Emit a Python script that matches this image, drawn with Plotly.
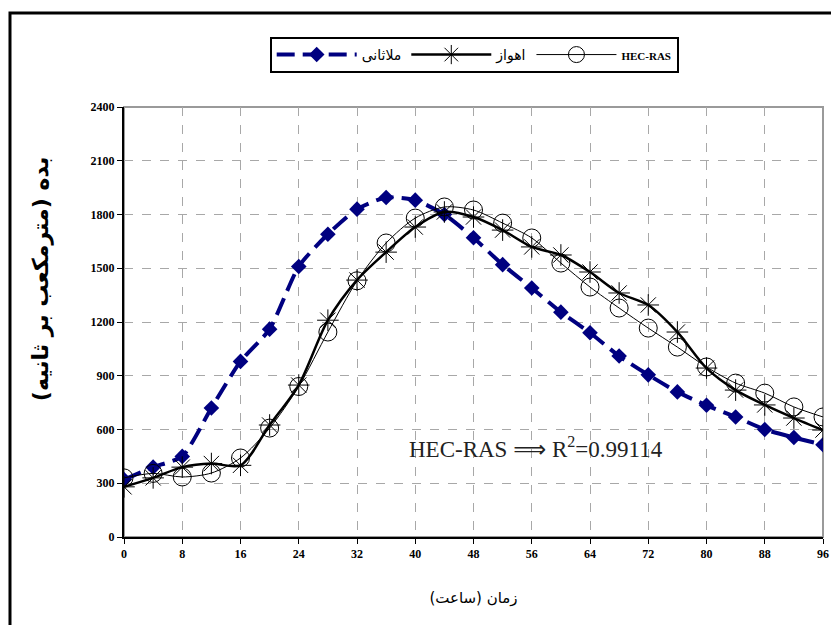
import plotly.graph_objects as go

# hours since start of the flood
hours = [0, 4, 8, 12, 16, 20, 24, 28, 32, 36, 40, 44, 48,
         52, 56, 60, 64, 68, 72, 76, 80, 84, 88, 92, 96]

# discharge (m3/s)
malathani = [320, 390, 450, 720, 980, 1160, 1510, 1690, 1830, 1895, 1880, 1800, 1670,
             1520, 1390, 1255, 1140, 1010, 905, 810, 735, 670, 600, 555, 515]
ahvaz = [280, 330, 390, 410, 400, 625, 848, 1210, 1434, 1590, 1730, 1814, 1786,
         1713, 1619, 1574, 1479, 1362, 1295, 1144, 943, 820, 737, 664, 597]
hecras = [330, 355, 335, 357, 441, 608, 840, 1144, 1430, 1641, 1780, 1842, 1825,
          1752, 1669, 1529, 1395, 1278, 1166, 1060, 949, 859, 803, 726, 670]

x_ticks = [0, 8, 16, 24, 32, 40, 48, 56, 64, 72, 80, 88, 96]
y_ticks = [0, 300, 600, 900, 1200, 1500, 1800, 2100, 2400]

serif = "Liberation Serif, DejaVu Serif, serif"
persian = "DejaVu Sans, Noto Sans, sans-serif"

fig = go.Figure()

fig.add_trace(go.Scatter(
    x=hours, y=malathani, name="ملاثانی", mode="lines+markers",
    line=dict(color="#000080", width=4, dash="18px,8px", shape="spline", smoothing=0.6),
    marker=dict(symbol="diamond", size=12, color="#000080"),
))
fig.add_trace(go.Scatter(
    x=hours, y=ahvaz, name="اهواز", mode="lines+markers",
    line=dict(color="black", width=2.5, shape="spline", smoothing=0.8),
    marker=dict(symbol="asterisk-open", size=18, color="black", line=dict(color="black", width=1)),
))
fig.add_trace(go.Scatter(
    x=hours, y=hecras,
    name="<span style='font-family:Liberation Serif;font-size:11px'><b>HEC-RAS</b></span>",
    mode="lines+markers",
    line=dict(color="black", width=1, shape="spline", smoothing=0.8),
    marker=dict(symbol="circle-open", size=18, color="black", line=dict(color="black", width=1)),
))

# gray plot-area border, black outer frame
fig.add_shape(type="rect", xref="paper", yref="paper", x0=0, y0=0, x1=1, y1=1,
              line=dict(color="#9a9a9a", width=2), layer="below")
fig.add_shape(type="path", xref="paper", yref="paper",
              path="M -0.1631,-0.3 L -0.1631,1.2186 L 1.1,1.2186",
              line=dict(color="black", width=3))

fig.add_annotation(
    x=56.6, y=502, xref="x", yref="y",
    text="HEC-RAS <span style='font-family:DejaVu Sans'>⟹</span> R<sup>2</sup>=0.99114",
    showarrow=False,
    font=dict(family=serif, size=23, color="#222222"),
)

# y title as a rotated annotation so it can sit a bit above centre like the original
fig.add_annotation(
    x=-0.14, y=0.60, xref="paper", yref="paper",
    text="<b>بده (مترمکعب بر ثانیه)</b>", textangle=-90, showarrow=False,
    font=dict(family=persian, size=22, color="black"),
)

fig.update_xaxes(
    range=[0, 96], tickvals=x_ticks, ticktext=[f"<b>{v}</b>" for v in x_ticks],
    ticks="outside", ticklen=5, tickcolor="black",
    showline=True, linecolor="black", linewidth=2,
    showgrid=True, gridcolor="#a8a8a8", griddash="dash", gridwidth=1,
    tickfont=dict(family=serif, size=12, color="black"),
    title=dict(text="زمان (ساعت)", font=dict(family=persian, size=15, color="black"), standoff=32),
    zeroline=False,
)
fig.update_yaxes(
    range=[0, 2400], tickvals=y_ticks, ticktext=[f"<b>{v}</b>" for v in y_ticks],
    ticks="outside", ticklen=5, tickcolor="black",
    showline=True, linecolor="black", linewidth=2,
    showgrid=True, gridcolor="#a8a8a8", griddash="dash", gridwidth=1,
    tickfont=dict(family=serif, size=12, color="black"),
    zeroline=False,
)

# the page body adds an 8px offset, so the figure is drawn 8px smaller
fig.update_layout(
    width=831, height=617,
    margin=dict(l=116, r=10, t=99, b=88),
    paper_bgcolor="white", plot_bgcolor="white",
    legend=dict(
        orientation="h", x=0.501, y=1.121, xanchor="center", yanchor="middle",
        bordercolor="black", borderwidth=2, bgcolor="white",
        font=dict(family=persian, size=14, color="black"),
        itemwidth=80,
    ),
)

fig.write_html("out.html")
